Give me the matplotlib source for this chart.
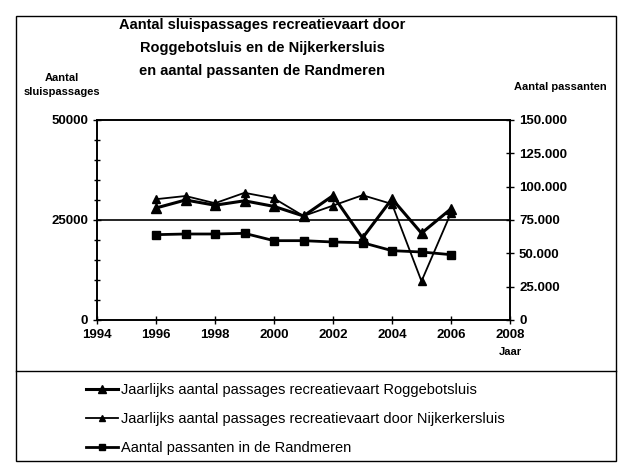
import matplotlib.pyplot as plt
import numpy as np
from matplotlib.patches import Rectangle
from matplotlib.lines import Line2D
from matplotlib.ticker import MultipleLocator, FuncFormatter

plt.rcParams['font.family'] = ['Liberation Sans', 'DejaVu Sans']

jaren = [1996, 1997, 1998, 1999, 2000, 2001, 2002, 2003, 2004, 2005, 2006]
roggebot = [28000, 30000, 28700, 29800, 28400, 26000, 31100, 20500, 30300, 21700, 27800]
nijkerk = [30200, 31000, 29200, 31800, 30400, 26000, 28600, 31200, 29000, 9700, 26800]
passanten = [64000, 64500, 64500, 65000, 59500, 59500, 58500, 58000, 52000, 51000, 49000]

fig = plt.figure(figsize=(6.25, 4.66), dpi=100)
W, H = 625, 466

def fx(px):
    return px / W

def fy(py):
    return 1 - py / H

# buitenkader met scheidingslijn boven de legenda
fig.add_artist(Rectangle((fx(16), fy(461)), fx(616) - fx(16), fy(16) - fy(461),
                         transform=fig.transFigure, fill=False, lw=1.0, color='black'))
fig.add_artist(Line2D([fx(16), fx(616)], [fy(371), fy(371)], transform=fig.transFigure,
                      lw=1.0, color='black'))

ax = fig.add_axes([fx(97), fy(320), fx(510) - fx(97), fy(120) - fy(320)])
ax2 = ax.twinx()

ax.plot(jaren, roggebot, color='black', lw=2.2, marker='^', ms=7)
ax.plot(jaren, nijkerk, color='black', lw=1.3, marker='^', ms=6)
ax2.plot(jaren, passanten, color='black', lw=2.0, marker='s', ms=6)

ax.set_xlim(1994, 2008)
ax.set_ylim(0, 50000)
ax2.set_ylim(0, 150000)
ax.axhline(25000, color='black', lw=1.2)

ax.xaxis.set_major_locator(MultipleLocator(2))
ax.yaxis.set_major_locator(MultipleLocator(25000))
ax.yaxis.set_minor_locator(MultipleLocator(5000))
ax2.yaxis.set_major_locator(MultipleLocator(25000))
ax2.yaxis.set_major_formatter(FuncFormatter(lambda v, p: f"{int(v):,}".replace(',', '.')))

for a in (ax, ax2):
    for s in a.spines.values():
        s.set_linewidth(1.2)
    a.tick_params(direction='inout', length=6, width=1, labelsize=9.5)
ax.tick_params(which='minor', direction='inout', length=5, width=1)
for lab in ax.get_xticklabels() + ax.get_yticklabels() + ax2.get_yticklabels():
    lab.set_fontweight('bold')

fig.text(fx(262), fy(25), "Aantal sluispassages recreatievaart door", ha='center', va='center',
         fontsize=10.5, fontweight='bold')
fig.text(fx(262), fy(48), "Roggebotsluis en de Nijkerkersluis", ha='center', va='center',
         fontsize=10.5, fontweight='bold')
fig.text(fx(262), fy(71), "en aantal passanten de Randmeren", ha='center', va='center',
         fontsize=10.5, fontweight='bold')
fig.text(fx(62), fy(85), "Aantal\nsluispassages", ha='center', va='center', fontsize=8,
         fontweight='bold', linespacing=1.6)
fig.text(fx(560), fy(87), "Aantal passanten", ha='center', va='center', fontsize=8,
         fontweight='bold')
fig.text(fx(510), fy(352), "Jaar", ha='center', va='center', fontsize=8, fontweight='bold')

handles = [
    Line2D([], [], color='black', lw=2.2, marker='^', ms=6),
    Line2D([], [], color='black', lw=1.3, marker='^', ms=5),
    Line2D([], [], color='black', lw=2.0, marker='s', ms=5),
]
labels = [
    "Jaarlijks aantal passages recreatievaart Roggebotsluis",
    "Jaarlijks aantal passages recreatievaart door Nijkerkersluis",
    "Aantal passanten in de Randmeren",
]
fig.legend(handles, labels, loc='upper left', bbox_to_anchor=(fx(80), fy(377)),
           frameon=False, fontsize=10.5, handlelength=2.2, handletextpad=0.2,
           labelspacing=1.05, borderaxespad=0)

fig.savefig('out.png', dpi=100)
